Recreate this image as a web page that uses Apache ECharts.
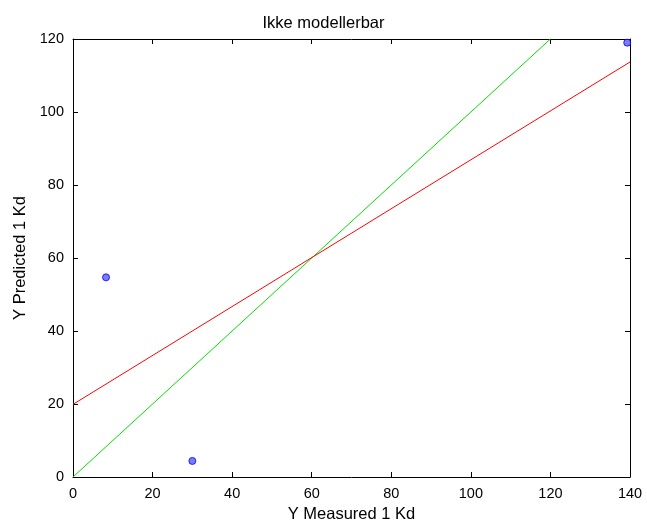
<!DOCTYPE html>
<html><head><meta charset="utf-8">
<script src="https://cdn.jsdelivr.net/npm/echarts@6/dist/echarts.min.js"></script>
<style>html,body{margin:0;padding:0;background:#fff}#c{width:647px;height:528px}</style>
</head><body><div id="c"></div>
<script>
const measured = [8.3, 30.0, 139.3];
const predicted = [54.7, 4.4, 119.0];
const fitLine = [[0, 19.9], [140, 113.7]];
const idealLine = [[0, 0], [120, 120]];
const xTicks = [0, 20, 40, 60, 80, 100, 120, 140];
const yTicks = [0, 20, 40, 60, 80, 100, 120];

const font = 'Liberation Sans, Arial, sans-serif';
const chart = echarts.init(document.getElementById('c'));
const axBase = {
  type: 'value', min: 0, interval: 20,
  axisLine: {show: true, onZero: false, lineStyle: {color: '#000', width: 1}},
  axisTick: {show: true, inside: true, length: 5, lineStyle: {color: '#000'}},
  splitLine: {show: false},
  axisLabel: {color: '#000', fontSize: 14.5, fontFamily: font, margin: 9},
  nameTextStyle: {color: '#000', fontSize: 16.5, fontFamily: font}
};
chart.setOption({
  animation: false,
  title: {text: 'Ikke modellerbar', left: 'center', top: 10,
    textStyle: {color: '#000', fontSize: 16.5, fontWeight: 'normal', fontFamily: font}},
  grid: {left: 73, right: 17, top: 39, bottom: 50},
  xAxis: [
    Object.assign({}, axBase, {max: xTicks[xTicks.length-1], position: 'bottom',
      name: 'Y Measured 1 Kd', nameLocation: 'middle', nameGap: 29}),
    Object.assign({}, axBase, {max: xTicks[xTicks.length-1], position: 'top', axisLabel: {show: false}})
  ],
  yAxis: [
    Object.assign({}, axBase, {max: yTicks[yTicks.length-1], position: 'left',
      name: 'Y Predicted 1 Kd', nameLocation: 'middle', nameGap: 41}),
    Object.assign({}, axBase, {max: yTicks[yTicks.length-1], position: 'right', axisLabel: {show: false}})
  ],
  series: [
    {type: 'line', data: idealLine, showSymbol: false, lineStyle: {color: '#00e000', width: 1}, z: 2},
    {type: 'line', data: fitLine, showSymbol: false, lineStyle: {color: '#ff0000', width: 1}, z: 3},
    {type: 'scatter', data: measured.map((x, i) => [x, predicted[i]]), symbol: 'circle', symbolSize: 7,
      itemStyle: {color: '#5a5aff', borderColor: '#0000ff', borderWidth: 1}, z: 4}
  ]
});
</script></body></html>
